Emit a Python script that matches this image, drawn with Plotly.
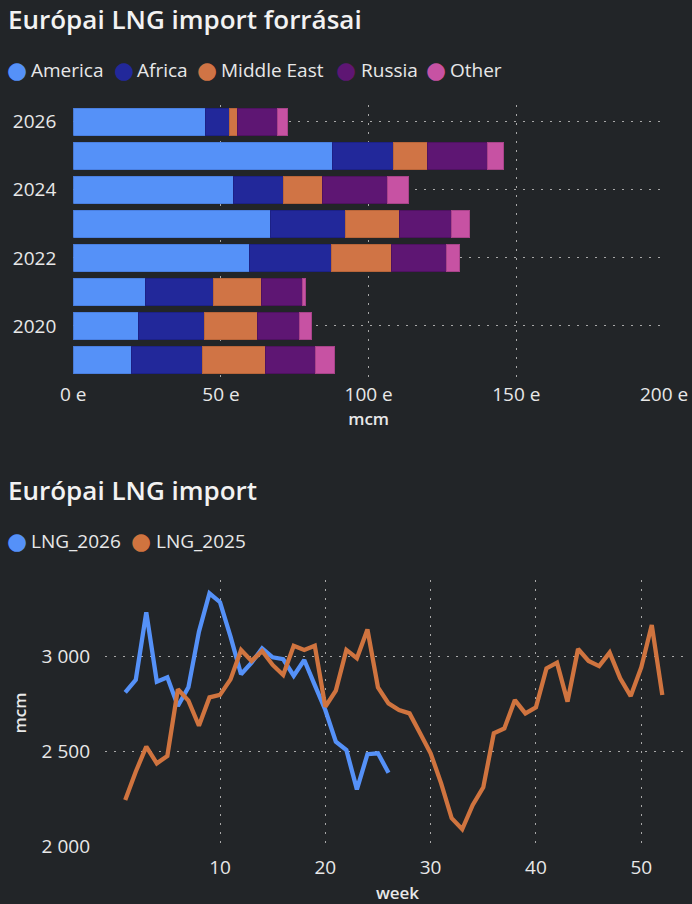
import plotly.graph_objects as go

# ---- data: bar chart (thousand mcm, "e" = ezer) ----
years = [2019, 2020, 2021, 2022, 2023, 2024, 2025, 2026]
america = [19.8, 22.2, 24.3, 59.7, 66.7, 54.4, 87.6, 44.6]
africa = [23.9, 22.3, 23.1, 27.6, 25.3, 16.9, 20.9, 8.4]
middle_east = [21.5, 17.9, 16.2, 20.4, 18.4, 13.2, 11.4, 2.6]
russia = [16.9, 14.3, 14.1, 18.8, 17.8, 21.8, 20.2, 13.4]
other = [6.5, 4.1, 0.8, 4.1, 6.1, 7.3, 5.5, 3.4]
bar_x_ticks = [0, 50, 100, 150, 200]
bar_x_labels = ["0 e", "50 e", "100 e", "150 e", "200 e"]
year_ticks = [2020, 2022, 2024, 2026]

# ---- data: weekly line chart (mcm) ----
weeks_2026 = list(range(1, 27))
lng_2026 = [2809, 2874, 3230, 2865, 2888, 2737, 2835, 3128, 3330, 3283,
            3102, 2904, 2965, 3040, 2993, 2983, 2896, 2979, 2847, 2716,
            2549, 2505, 2298, 2483, 2488, 2386]
weeks_2025 = list(range(1, 53))
lng_2025 = [2242, 2391, 2523, 2435, 2474, 2825, 2765, 2633, 2782, 2795,
            2877, 3032, 2974, 3026, 2953, 2900, 3054, 3032, 3054, 2733,
            2818, 3032, 2988, 3140, 2835, 2751, 2716, 2698, 2593, 2488,
            2330, 2146, 2088, 2216, 2309, 2593, 2619, 2768, 2698, 2730,
            2935, 2965, 2760, 3037, 2974, 2947, 3018, 2883, 2789, 2940,
            3163, 2795]
week_ticks = [10, 20, 30, 40, 50]
mcm_ticks = [2000, 2500, 3000]

# ---- styles ----
W, H = 692, 904
BG = "#222528"
TXT = "#E8E8E8"
GRID = "#A8A8A8"
DASH = "2px,7px"
FONT = "Open Sans"

series = [
    ("America", america, "#5591F8", "#4A7FE0"),
    ("Africa", africa, "#22289A", "#1C2186"),
    ("Middle East", middle_east, "#D07445", "#B8653A"),
    ("Russia", russia, "#5E1673", "#4E1260"),
    ("Other", other, "#C752A3", "#A8438A"),
]
line_series = [
    ("LNG_2026", weeks_2026, lng_2026, "#5591F8"),
    ("LNG_2025", weeks_2025, lng_2025, "#D0743F"),
]

fig = go.Figure()
for name, vals, col, edge in series:
    fig.add_trace(go.Bar(
        name=name, y=years, x=vals, orientation="h",
        marker=dict(color=col, line=dict(color=edge, width=1)),
        width=0.8, xaxis="x", yaxis="y", showlegend=False,
    ))
for name, wk, vals, col in line_series:
    fig.add_trace(go.Scatter(
        name=name, x=wk, y=vals, mode="lines",
        line=dict(color=col, width=4.3),
        xaxis="x2", yaxis="y2", showlegend=False,
    ))


def px_x(p):
    return p / W


def px_y(p):
    return 1 - p / H


axis_common = dict(
    showgrid=True, gridcolor=GRID, griddash=DASH, gridwidth=1,
    zeroline=False, showline=False, ticks="", automargin=False,
    tickfont=dict(family=FONT, size=19, color=TXT),
)

fig.update_layout(
    width=W, height=H,
    margin=dict(l=0, r=0, t=0, b=0, autoexpand=False),
    paper_bgcolor=BG, plot_bgcolor=BG,
    barmode="stack",
    showlegend=False,
    font=dict(family=FONT, color=TXT),
    xaxis=dict(
        **axis_common,
        domain=[px_x(73.3), px_x(664)], range=[0, 200],
        tickvals=bar_x_ticks, ticktext=bar_x_labels,
        anchor="y", ticklabelstandoff=4,
        title=dict(text="mcm", standoff=6,
                   font=dict(family=FONT, size=17, color=TXT, weight=600)),
    ),
    yaxis=dict(
        **axis_common,
        domain=[px_y(377), px_y(104.7)], range=[2018.5, 2026.5],
        tickvals=year_ticks,
        anchor="x", ticklabelstandoff=16,
    ),
    xaxis2=dict(
        **axis_common,
        domain=[px_x(105), px_x(690)], range=[-0.92, 54.63],
        tickvals=week_ticks, anchor="y2", ticklabelstandoff=8,
        title=dict(text="week", standoff=8,
                   font=dict(family=FONT, size=17, color=TXT, weight=600)),
    ),
    yaxis2=dict(
        **axis_common,
        domain=[px_y(846), px_y(580)], range=[2000, 3400],
        tickvals=mcm_ticks, separatethousands=True,
        anchor="x2", ticklabelstandoff=14,
        title=dict(text="mcm", standoff=10,
                   font=dict(family=FONT, size=17, color=TXT, weight=600)),
    ),
    separators=", ",
)

annotations = []
# chart titles
for text, yc in [("Európai LNG import forrásai", 19), ("Európai LNG import", 490)]:
    annotations.append(dict(
        text=text, x=px_x(6), y=px_y(yc), xref="paper", yref="paper",
        xanchor="left", yanchor="middle", showarrow=False,
        font=dict(family=FONT, size=26, color="#F2F2F2", weight=600),
    ))

# legends (circle markers + labels)
legend1 = [(17, 29), (124, 135), (207, 219), (346, 359), (435.5, 448)]
legend2 = [(17, 29), (141, 154)]
for (cx, tx), (name, _, col, _) in zip(legend1, series):
    annotations.append(dict(text="●", x=px_x(cx), y=px_y(70.5), xref="paper", yref="paper",
                            xanchor="center", yanchor="middle", showarrow=False,
                            font=dict(family="DejaVu Sans", size=23, color=col)))
    annotations.append(dict(text=name, x=px_x(tx), y=px_y(70.5), xref="paper", yref="paper",
                            xanchor="left", yanchor="middle", showarrow=False,
                            font=dict(family=FONT, size=19, color=TXT)))
for (cx, tx), (name, _, _, col) in zip(legend2, line_series):
    annotations.append(dict(text="●", x=px_x(cx), y=px_y(541), xref="paper", yref="paper",
                            xanchor="center", yanchor="middle", showarrow=False,
                            font=dict(family="DejaVu Sans", size=23, color=col)))
    annotations.append(dict(text=name, x=px_x(tx), y=px_y(541), xref="paper", yref="paper",
                            xanchor="left", yanchor="middle", showarrow=False,
                            font=dict(family=FONT, size=19, color=TXT)))

fig.update_layout(annotations=annotations)
fig.write_html(
    "out.html",
    config={"displayModeBar": False},
    post_script="document.body.style.margin='0';"
                "document.body.style.background='" + BG + "';"
                "document.documentElement.style.overflow='hidden';",
)
